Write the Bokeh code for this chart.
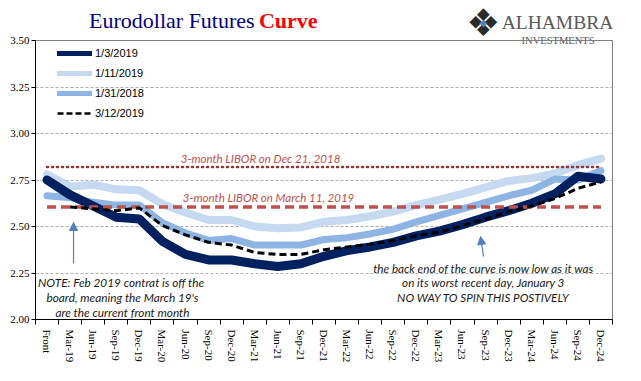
from bokeh.plotting import figure
from bokeh.layouts import column
from bokeh.models import (ColumnDataSource, Legend, LegendItem, Label, Arrow,
                          NormalHead, FixedTicker, Range1d)
from bokeh.embed import file_html
from bokeh.resources import INLINE

nan = float("nan")

categories = ["Front", "Mar-19", "Jun-19", "Sep-19", "Dec-19", "Mar-20", "Jun-20",
              "Sep-20", "Dec-20", "Mar-21", "Jun-21", "Sep-21", "Dec-21", "Mar-22",
              "Jun-22", "Sep-22", "Dec-22", "Mar-23", "Jun-23", "Sep-23", "Dec-23",
              "Mar-24", "Jun-24", "Sep-24", "Dec-24"]

curve_jan3_2019 = [2.75, 2.67, 2.61, 2.55, 2.54, 2.42, 2.35, 2.32, 2.32, 2.30, 2.285,
                   2.30, 2.34, 2.37, 2.39, 2.415, 2.45, 2.475, 2.51, 2.55, 2.585,
                   2.625, 2.675, 2.77, 2.755]
curve_jan11_2019 = [2.78, 2.715, 2.725, 2.70, 2.695, 2.62, 2.575, 2.535, 2.535, 2.50,
                    2.49, 2.495, 2.525, 2.535, 2.555, 2.58, 2.615, 2.645, 2.675, 2.71,
                    2.745, 2.76, 2.785, 2.83, 2.865]
curve_jan31_2018 = [2.665, 2.655, 2.63, 2.615, 2.615, 2.52, 2.465, 2.425, 2.435, 2.40,
                    2.40, 2.40, 2.43, 2.44, 2.46, 2.485, 2.525, 2.56, 2.595, 2.63,
                    2.665, 2.695, 2.755, 2.75, 2.80]
curve_mar12_2019 = [nan, 2.605, 2.595, 2.585, 2.60, 2.505, 2.455, 2.415, 2.40, 2.36,
                    2.35, 2.35, 2.375, 2.39, 2.405, 2.425, 2.45, 2.47, 2.505, 2.54,
                    2.58, 2.61, 2.65, 2.705, 2.74]

libor_dec21_2018 = 2.82
libor_mar11_2019 = 2.605

y_ticks = [2.00, 2.25, 2.50, 2.75, 3.00, 3.25, 3.50]

W = 625
TOP_H = 46
OVERLAP = 14
MAIN_TOP = 8
MAIN_H = 365 - TOP_H + OVERLAP

idx = list(range(len(categories)))
src = ColumnDataSource(dict(
    x=idx,
    jan3=curve_jan3_2019,
    jan11=curve_jan11_2019,
    jan31=curve_jan31_2018,
    mar12=curve_mar12_2019,
    dec21=[libor_dec21_2018] * len(idx),
    mar11=[libor_mar11_2019] * len(idx),
))

# ---------------- header strip (title + logo) ----------------
top = figure(width=W, height=TOP_H, output_backend="svg", toolbar_location=None,
             x_range=Range1d(0, W), y_range=Range1d(TOP_H, 0),
             min_border=0, x_axis_location=None, y_axis_location=None)
top.grid.grid_line_color = None
top.outline_line_color = None
top.background_fill_alpha = 0
top.border_fill_alpha = 0

def top_text(txt, x, y, color, size, font, style="normal", align="left"):
    top.add_layout(Label(x=x, y=y, text=txt, text_color=color, text_font=font,
                         text_font_size=size, text_font_style=style,
                         text_align=align, text_baseline="middle"))

top_text("Eurodollar Futures", 58, 20, "#000080", "22px", "Liberation Serif")
top_text("Curve", 242, 20, "#ff0000", "22px", "Liberation Serif", style="bold")
top_text("\u2756", 485, 22, "#2b2b2b", "38px", "DejaVu Sans", align="center")
top_text("\u25c6", 485, 22, "#4f81bd", "10px", "DejaVu Sans", align="center")
top_text("ALHAMBRA", 505, 22, "#595959", "19.5px", "Liberation Serif")
top_text("INVESTMENTS", 566, 40, "#595959", "10.5px", "Liberation Serif",
         align="center")

# ---------------- main chart ----------------
p = figure(width=W, height=MAIN_H, output_backend="svg", toolbar_location=None,
           x_range=(-0.5, len(categories) - 0.5), y_range=(2.0, 3.5),
           min_border_left=35, min_border_right=13, min_border_top=MAIN_TOP,
           min_border_bottom=MAIN_H - MAIN_TOP - 279)
p.margin = (-OVERLAP, 0, 0, 0)
p.border_fill_alpha = 0
p.background_fill_alpha = 0
p.outline_line_color = "#808080"
p.outline_line_width = 1

p.xaxis.ticker = FixedTicker(ticks=idx,
                             minor_ticks=[i - 0.5 for i in idx] + [len(idx) - 0.5])
p.xaxis.major_label_overrides = {i: c for i, c in enumerate(categories)}
p.xaxis.major_label_orientation = "vertical"
p.xaxis.major_tick_out = 0
p.xaxis.major_tick_in = 0
p.xaxis.minor_tick_out = 5
p.xaxis.minor_tick_in = 0
p.xaxis.minor_tick_line_color = "black"
p.xaxis.axis_line_color = "black"
p.xaxis.major_label_text_font = "Liberation Serif"
p.xaxis.major_label_text_font_size = "11px"
p.xaxis.major_label_text_color = "black"
p.xaxis.major_label_standoff = 5

p.yaxis.ticker = FixedTicker(ticks=y_ticks)
p.yaxis.major_label_overrides = {t: f"{t:.2f}" for t in y_ticks}
p.yaxis.major_tick_out = 4
p.yaxis.major_tick_in = 0
p.yaxis.minor_tick_line_color = None
p.yaxis.axis_line_color = "black"
p.yaxis.major_label_text_font = "Liberation Serif"
p.yaxis.major_label_text_font_size = "11px"
p.yaxis.major_label_text_color = "black"
p.yaxis.major_label_standoff = 2

p.xgrid.grid_line_color = None
p.ygrid.ticker = FixedTicker(ticks=y_ticks)
p.ygrid.grid_line_color = "#b0b0b0"
p.ygrid.grid_line_dash = "3 2"
p.ygrid.grid_line_width = 1

NAVY = "#002060"
LIGHT = "#c5d9f1"
MED = "#8db4e2"
RED = "#c0504d"
DRED = "#943634"

p.line("x", "jan11", source=src, line_color=LIGHT, line_width=8,
       line_join="round", line_cap="round")
p.line("x", "jan31", source=src, line_color=MED, line_width=7,
       line_join="round", line_cap="round")
p.line("x", "jan3", source=src, line_color=NAVY, line_width=9,
       line_join="round", line_cap="round")
p.line("x", "dec21", source=src, line_color=DRED, line_width=2.5, line_dash="1 4",
       line_cap="round")
p.line("x", "mar11", source=src, line_color=RED, line_width=3.5, line_dash="9 5")
p.line("x", "mar12", source=src, line_color="black", line_width=3, line_dash="7 4")

# legend-only renderers (thinner sample lines), drawn off-screen
off = ColumnDataSource(dict(x=[-5, -4], y=[0, 0]))
l1 = p.line("x", "y", source=off, line_color=NAVY, line_width=5, line_cap="round")
l2 = p.line("x", "y", source=off, line_color=LIGHT, line_width=5, line_cap="round")
l3 = p.line("x", "y", source=off, line_color=MED, line_width=5, line_cap="round")
l4 = p.line("x", "y", source=off, line_color="black", line_width=2.5, line_dash="6 3")
legend = Legend(items=[LegendItem(label="1/3/2019", renderers=[l1]),
                       LegendItem(label="1/11/2019", renderers=[l2]),
                       LegendItem(label="1/31/2018", renderers=[l3]),
                       LegendItem(label="3/12/2019", renderers=[l4])],
                location=(22, 198), glyph_width=35, glyph_height=16, spacing=4,
                label_standoff=3, padding=0, margin=0,
                label_text_font="Liberation Sans", label_text_font_size="11px",
                label_text_color="black", border_line_color=None,
                background_fill_alpha=0)
p.add_layout(legend, "center")

# helpers: convert picture pixel position (reference) to data coords
def dx(px):
    return (px - 46.5) / 23.08

def dy(py):
    return 3.5 - (py - 40) / 186.0

def add_text(txt, px, py, color, size="11px", font="Lato", style="italic",
             align="center"):
    p.add_layout(Label(x=dx(px), y=dy(py), text=txt, text_color=color,
                       text_font=font, text_font_size=size, text_font_style=style,
                       text_align=align, text_baseline="middle"))

add_text("3-month LIBOR on Dec 21, 2018", 260, 158, RED, size="11.5px")
add_text("3-month LIBOR on March 11, 2019", 268, 197, RED, size="11.5px")

note_lines = ["NOTE: Feb 2019 contrat  is off the",
              "board, meaning the March 19's",
              "are the current front month"]
for i, t in enumerate(note_lines):
    add_text(t, 122, 282 + 15 * i, "#1a1a1a", size="11.8px")

back_lines = ["the back end of the curve is now low as it was",
              "on its worst recent day, January 3",
              "NO WAY TO SPIN THIS POSTIVELY"]
for i, t in enumerate(back_lines):
    add_text(t, 483, 267 + 14.5 * i, "#1a1a1a", size="11.7px")

ARROW = "#4f81bd"
p.add_layout(Arrow(end=NormalHead(size=8, fill_color=ARROW, line_color=ARROW),
                   x_start=dx(73), y_start=dy(263), x_end=dx(73), y_end=dy(222),
                   line_color=ARROW, line_width=1.2))
p.add_layout(Arrow(end=NormalHead(size=8, fill_color=ARROW, line_color=ARROW),
                   x_start=dx(483), y_start=dy(256), x_end=dx(480), y_end=dy(236),
                   line_color=ARROW, line_width=1.2))

layout = column(top, p, spacing=0)
open("out.html", "w").write(file_html(layout, INLINE))
